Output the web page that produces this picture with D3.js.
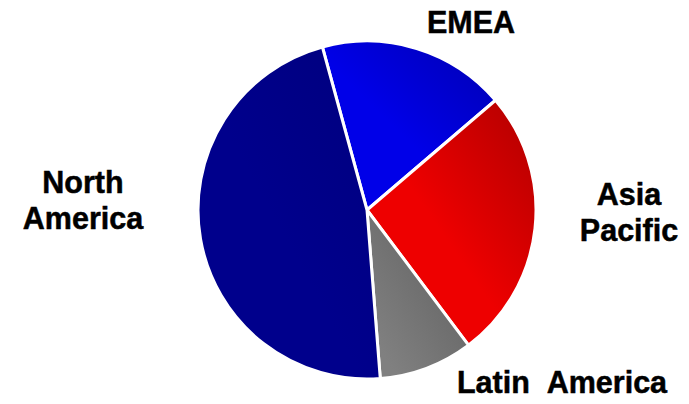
<!DOCTYPE html>
<html>
<head>
<meta charset="utf-8">
<script src="https://cdn.jsdelivr.net/npm/d3@7/dist/d3.min.js"></script>
<style>
  html, body { margin: 0; padding: 0; background: #fff; }
  svg { display: block; }
  text { font-family: "Liberation Sans", Arial, sans-serif; font-weight: bold; fill: #000; stroke: #000; stroke-width: 0.5px; }
</style>
</head>
<body>
<svg id="chart" width="689" height="404"></svg>
<script>
// Data
const categories = ["EMEA", "Asia Pacific", "Latin America", "North America"];
const values = [18, 26, 9, 47];
const labelLines = [["EMEA"], ["Asia", "Pacific"], ["Latin\u00a0\u00a0America"], ["North", "America"]];
const colorLight = ["#0000e8", "#ee0000", "#808080", "#00008c"];
const colorDark  = ["#0000b2", "#b00000", "#5c5c5c", "#00007e"];
const lightStop  = [45, 45, 15, 45];

const W = 689, H = 404;
const cx = 367, cy = 210, R = 169;
const startDeg = -15.3;

const svg = d3.select("#chart");
const defs = svg.append("defs");
categories.forEach((c, i) => {
  const g = defs.append("linearGradient")
    .attr("id", "grad" + i)
    .attr("x1", 0).attr("y1", 1).attr("x2", 1).attr("y2", 0);
  g.append("stop").attr("offset", "0%").attr("stop-color", colorLight[i]);
  g.append("stop").attr("offset", lightStop[i] + "%").attr("stop-color", colorLight[i]);
  g.append("stop").attr("offset", "100%").attr("stop-color", colorDark[i]);
});

const pie = d3.pie().sort(null)
  .startAngle(startDeg * Math.PI / 180)
  .endAngle((startDeg + 360) * Math.PI / 180);
const arcs = pie(values);
const arc = d3.arc().innerRadius(0).outerRadius(R);

const g = svg.append("g").attr("transform", `translate(${cx},${cy})`);
g.selectAll("path").data(arcs).enter().append("path")
  .attr("d", arc)
  .attr("fill", (d, i) => `url(#grad${i})`)
  .attr("stroke", "#fff")
  .attr("stroke-width", 3)
  .attr("stroke-linejoin", "round");

// Labels
const labelPos = [
  { x: 471, y: 33 },
  { x: 629, y: 205 },
  { x: 562, y: 393 },
  { x: 83, y: 193 }
];
const lineH = 36;
categories.forEach((c, i) => {
  const t = svg.append("text")
    .attr("x", labelPos[i].x)
    .attr("y", labelPos[i].y)
    .attr("text-anchor", "middle")
    .style("font-size", "30.5px");
  labelLines[i].forEach((ln, j) => {
    t.append("tspan").attr("x", labelPos[i].x).attr("dy", j === 0 ? 0 : lineH).text(ln);
  });
});
</script>
</body>
</html>
